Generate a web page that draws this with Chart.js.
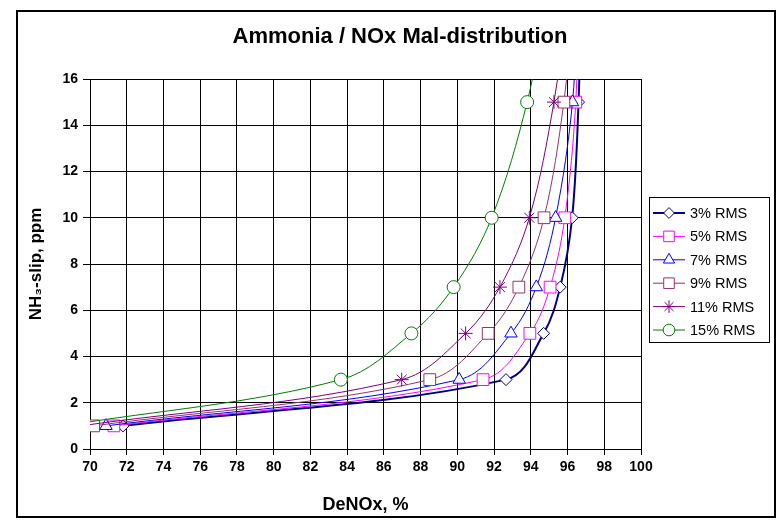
<!DOCTYPE html>
<html>
<head>
<meta charset="utf-8">
<title>Ammonia / NOx Mal-distribution</title>
<script src="https://cdn.jsdelivr.net/npm/chart.js@4/dist/chart.umd.min.js"></script>
<style>
  html, body { margin: 0; padding: 0; background: #fff; }
</style>
</head>
<body>
<canvas id="chart" width="777" height="521"></canvas>
<script>
// NH3 slip levels (ppm) shared by every curve
var nh3Slip = [1, 3, 5, 7, 10, 15, 20];

// DeNOx (%) reached at each slip level, per RMS mal-distribution
var deNOx3  = [71.8, 92.65, 94.7, 95.6, 96.25, 96.6, 96.75];
var deNOx5  = [71.3, 91.4, 93.95, 95.05, 95.85, 96.45, 96.6];
var deNOx7  = [70.87, 90.1, 92.92, 94.3, 95.35, 96.27, 96.55];
var deNOx9  = [70.2, 88.5, 91.68, 93.35, 94.72, 95.8, 96.4];
var deNOx11 = [69.5, 86.97, 90.45, 92.32, 93.92, 95.26, 96.1];
var deNOx15 = [68.6, 83.66, 87.5, 89.8, 91.87, 93.8, 95.0];

var seriesLabels = ['3% RMS', '5% RMS', '7% RMS', '9% RMS', '11% RMS', '15% RMS'];
var seriesValues = [deNOx3, deNOx5, deNOx7, deNOx9, deNOx11, deNOx15];

var xTicks = { min: 70, max: 100, step: 2 };
var yTicks = { min: 0, max: 16, step: 2 };

var seriesStyle = [
    { color: '#000080', width: 2, point: 'rectRot', radius: 6 },
    { color: '#FF00FF', width: 1, point: 'rect', radius: 8.3 },
    { color: '#0000FF', width: 1, point: 'triangle', radius: 7.2 },
    { color: '#993366', width: 1, point: 'rect', radius: 8.3 },
    { color: '#800080', width: 1, point: 'star', radius: 7 },
    { color: '#008000', width: 1, point: 'circle', radius: 6.5 }
];

function makePoints(xs){
    return nh3Slip.map(function(y, i){ return { x: xs[i], y: y }; });
}

var datasets = seriesLabels.map(function(label, i){
    var s = seriesStyle[i];
    return {
        label: label,
        data: makePoints(seriesValues[i]),
        borderColor: s.color,
        borderWidth: s.width,
        backgroundColor: '#fff',
        pointStyle: s.point,
        pointRadius: s.radius,
        pointBorderColor: s.color,
        pointBackgroundColor: '#fff',
        pointBorderWidth: 1,
        tension: 0.35,
        fill: false,
        order: seriesLabels.length - i   // later series drawn on top
    };
});

Chart.defaults.font.family = '"Liberation Sans", Arial, sans-serif';
Chart.defaults.color = '#000';

// outer frame, title and the boxed legend with line + marker samples
var decorPlugin = {
    id: 'decor',
    beforeDraw: function(chart){
        var ctx = chart.ctx;
        ctx.save();
        ctx.fillStyle = '#fff';
        ctx.fillRect(0, 0, chart.width, chart.height);
        ctx.strokeStyle = '#000';
        ctx.lineWidth = 2;
        ctx.strokeRect(17, 11, 758, 506);
        ctx.restore();
    },
    afterDraw: function(chart){
        var ctx = chart.ctx;
        ctx.save();
        ctx.fillStyle = '#000';
        ctx.font = 'bold 22px "Liberation Sans", Arial, sans-serif';
        ctx.textAlign = 'center';
        ctx.textBaseline = 'middle';
        ctx.fillText('Ammonia / NOx Mal-distribution', 400, 37);

        // legend box
        var bx = 649, by = 197, bw = 120, bh = 145;
        ctx.fillStyle = '#fff';
        ctx.fillRect(bx, by, bw, bh);
        ctx.strokeStyle = '#000';
        ctx.lineWidth = 1;
        ctx.strokeRect(bx + 0.5, by + 0.5, bw, bh);

        ctx.font = '14.5px "Liberation Sans", Arial, sans-serif';
        ctx.textAlign = 'left';
        chart.data.datasets.forEach(function(ds, i){
            var y = 213 + i * 23.4;
            ctx.strokeStyle = ds.borderColor;
            ctx.lineWidth = ds.borderWidth;
            ctx.beginPath();
            ctx.moveTo(653, y);
            ctx.lineTo(685, y);
            ctx.stroke();
            ctx.fillStyle = ds.pointBackgroundColor;
            ctx.strokeStyle = ds.pointBorderColor;
            ctx.lineWidth = 1;
            if (Chart.helpers && Chart.helpers.drawPoint) {
                Chart.helpers.drawPoint(ctx, {
                    pointStyle: ds.pointStyle,
                    radius: ds.pointRadius * 0.9,
                    rotation: 0,
                    borderWidth: 1
                }, 669, y);
            }
            ctx.fillStyle = '#000';
            ctx.fillText(ds.label, 690, y + 1);
        });
        ctx.restore();
    }
};

var chart = new Chart(document.getElementById('chart').getContext('2d'), {
    type: 'line',
    data: { datasets: datasets },
    plugins: [decorPlugin],
    options: {
        responsive: false,
        animation: false,
        layout: { padding: { left: 18, top: 79, right: 136, bottom: 4 } },
        elements: { line: { capBezierPoints: false } },
        plugins: {
            legend: { display: false },
            title: { display: false },
            tooltip: { enabled: false }
        },
        scales: {
            x: {
                type: 'linear',
                min: xTicks.min,
                max: xTicks.max,
                ticks: {
                    stepSize: xTicks.step,
                    padding: 4,
                    font: { size: 14, weight: 'bold' },
                    maxRotation: 0
                },
                grid: { color: '#000', lineWidth: 1, tickLength: 6 },
                border: { color: '#000' },
                title: {
                    display: true,
                    text: 'DeNOx, %',
                    font: { size: 18, weight: 'bold' },
                    padding: { top: 0, bottom: 1 }
                },
                afterFit: function(scale){ scale.height = 68; }
            },
            y: {
                type: 'linear',
                min: yTicks.min,
                max: yTicks.max,
                ticks: {
                    stepSize: yTicks.step,
                    padding: 5,
                    font: { size: 14, weight: 'bold' }
                },
                grid: { color: '#000', lineWidth: 1, tickLength: 7 },
                border: { color: '#000' },
                title: {
                    display: true,
                    text: 'NH\u2083-slip, ppm',
                    font: { size: 17, weight: 'bold' },
                    padding: { top: 8, bottom: 0 }
                },
                afterFit: function(scale){ scale.width = 72; }
            }
        }
    }
});
</script>
</body>
</html>
